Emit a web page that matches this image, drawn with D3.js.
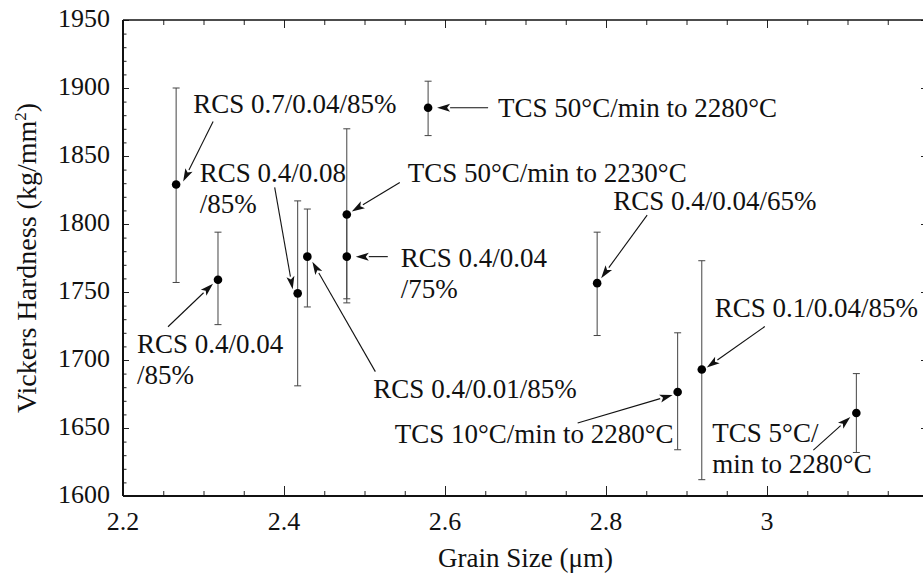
<html>
<head>
<meta charset="utf-8">
<script src="https://cdn.jsdelivr.net/npm/d3@7/dist/d3.min.js"></script>
<style>
@font-face { font-family: "LSerif"; src: local("Liberation Serif"), local("LiberationSerif"), local("LiberationSerif-Regular"), local("Tinos"), local("Tinos-Regular"); }
body { margin: 0; padding: 0; }
svg { display: block; }
</style>
</head>
<body>
<svg id="s" width="923" height="575"></svg>
<script>
// ---- data ----
const grainSize = [2.266, 2.318, 2.417, 2.429, 2.478, 2.478, 2.579, 2.789, 2.889, 2.919, 3.111];
const hardness  = [1829, 1759, 1749, 1776, 1807, 1776, 1885.5, 1756.5, 1676.5, 1693, 1661];
const errHigh   = [1900, 1794, 1817, 1811, 1870, 1808, 1905, 1794, 1720, 1773, 1690];
const errLow    = [1757, 1726, 1681, 1739, 1742, 1745, 1865, 1718, 1634, 1612, 1632];
const pointLabels = [
  ["RCS 0.7/0.04/85%"],
  ["RCS 0.4/0.04", "/85%"],
  ["RCS 0.4/0.08", "/85%"],
  ["RCS 0.4/0.01/85%"],
  ["TCS 50°C/min to 2230°C"],
  ["RCS 0.4/0.04", "/75%"],
  ["TCS 50°C/min to 2280°C"],
  ["RCS 0.4/0.04/65%"],
  ["TCS 10°C/min to 2280°C"],
  ["RCS 0.1/0.04/85%"],
  ["TCS 5°C/", "min to 2280°C"]
];
const xTicks = [2.2, 2.4, 2.6, 2.8, 3.0];
const xTickLabels = ["2.2", "2.4", "2.6", "2.8", "3"];
const yTicks = [1600, 1650, 1700, 1750, 1800, 1850, 1900, 1950];
const xTitle = "Grain Size (\u03bcm)";
const yTitle = "Vickers Hardness (kg/mm";

// ---- layout (pixel offsets of labels / arrows relative to each point) ----
const annot = [
  {tx: 17, ty: -72, a0: [37, -63], a1: [7, -3]},
  {tx: -81, ty: 73, a0: [-50, 47], a1: [-5, 4]},
  {tx: -98, ty: -111, a0: [-23, -106], a1: [-5, -4]},
  {tx: 66, ty: 141, a0: [68, 115], a1: [5, 5]},
  {tx: 61, ty: -32, a0: [53, -32], a1: [5, -3]},
  {tx: 54, ty: 10, a0: [41, 0], a1: [9, 0]},
  {tx: 70, ty: 9, a0: [60, 0], a1: [9, 0]},
  {tx: 16, ty: -73, a0: [50, -68], a1: [4, -5]},
  {tx: -283, ty: 51, a0: [-100, 31], a1: [-5, 3]},
  {tx: 13, ty: -53, a0: [63, -43], a1: [5, -2]},
  {tx: -144, ty: 29, a0: [-43, 37], a1: [-6, 4]}
];

const L = 123, R = 928, T = 20, B = 496;
const svg = d3.select("#s");
svg.append("rect").attr("width", 923).attr("height", 575).attr("fill", "#fff");

const x = d3.scaleLinear().domain([2.2, 3.2]).range([L, R]);
const y = d3.scaleLinear().domain([1600, 1950]).range([B, T]);

// axes (ticks inward)
const xMinor = d3.range(2.2, 3.2001, 0.05);
const yMinor = d3.range(1600, 1950.1, 10);

function ticksOnly(g) { g.select(".domain").remove(); g.selectAll("text").remove(); g.attr("font-family", null); }

const gBottom = svg.append("g").attr("transform", `translate(0,${B})`);
gBottom.append("g").call(d3.axisTop(x).tickValues(xMinor).tickSize(5)).call(ticksOnly);
gBottom.append("g").call(d3.axisTop(x).tickValues(xTicks).tickSize(10)).call(ticksOnly);
const gTop = svg.append("g").attr("transform", `translate(0,${T})`);
gTop.append("g").call(d3.axisBottom(x).tickValues(xMinor).tickSize(5)).call(ticksOnly);
gTop.append("g").call(d3.axisBottom(x).tickValues(xTicks).tickSize(8)).call(ticksOnly);
const gLeft = svg.append("g").attr("transform", `translate(${L},0)`);
gLeft.append("g").call(d3.axisRight(y).tickValues(yMinor).tickSize(3.5)).call(ticksOnly);
gLeft.append("g").call(d3.axisRight(y).tickValues(yTicks).tickSize(6)).call(ticksOnly);
const gRight = svg.append("g").attr("transform", `translate(${R},0)`);
gRight.append("g").call(d3.axisLeft(y).tickValues(yMinor).tickSize(4)).call(ticksOnly);
gRight.append("g").call(d3.axisLeft(y).tickValues(yTicks).tickSize(7)).call(ticksOnly);

svg.selectAll(".tick line").attr("stroke", "#222").attr("stroke-width", 1);

// frame
svg.append("line").attr("x1", L).attr("x2", R).attr("y1", B).attr("y2", B).attr("stroke", "#111").attr("stroke-width", 2.2);
svg.append("line").attr("x1", L).attr("x2", L).attr("y1", T).attr("y2", B).attr("stroke", "#111").attr("stroke-width", 2);
svg.append("line").attr("x1", L).attr("x2", R).attr("y1", T).attr("y2", T).attr("stroke", "#111").attr("stroke-width", 1.6);
svg.append("line").attr("x1", R).attr("x2", R).attr("y1", T).attr("y2", B).attr("stroke", "#999").attr("stroke-width", 1);

function txt(sel) {
  return sel.style("font-family", '"Liberation Serif", "LSerif", "Tinos", serif').attr("fill", "#111");
}

// tick labels
svg.append("g").selectAll("text").data(xTicks).join("text")
  .call(txt)
  .attr("x", d => x(d)).attr("y", B + 34)
  .attr("text-anchor", "middle").attr("font-size", 26)
  .text((d, i) => xTickLabels[i]);
svg.append("g").selectAll("text").data(yTicks).join("text")
  .call(txt)
  .attr("x", L - 13).attr("y", d => y(d) + 6.5)
  .attr("text-anchor", "end").attr("font-size", 26)
  .text(d => d);

// axis titles
svg.append("text").call(txt)
  .attr("x", (L + R) / 2).attr("y", 567)
  .attr("text-anchor", "middle").attr("font-size", 27).text(xTitle);
const yt = svg.append("text").call(txt)
  .attr("transform", `translate(36,${(T + B) / 2}) rotate(-90)`)
  .attr("text-anchor", "middle").attr("font-size", 28);
yt.append("tspan").text(yTitle);
yt.append("tspan").attr("dy", -10).attr("font-size", 17).text("2");
yt.append("tspan").attr("dy", 10).text(")");

// error bars
const eb = svg.append("g").attr("stroke", "#444").attr("stroke-width", 1);
grainSize.forEach((gx, i) => {
  const cx = x(gx);
  eb.append("line").attr("x1", cx).attr("x2", cx).attr("y1", y(errHigh[i])).attr("y2", y(errLow[i]));
  eb.append("line").attr("x1", cx - 3.5).attr("x2", cx + 3.5).attr("y1", y(errHigh[i])).attr("y2", y(errHigh[i]));
  eb.append("line").attr("x1", cx - 3.5).attr("x2", cx + 3.5).attr("y1", y(errLow[i])).attr("y2", y(errLow[i]));
});

// points
svg.append("g").selectAll("circle").data(grainSize).join("circle")
  .attr("cx", d => x(d)).attr("cy", (d, i) => y(hardness[i]))
  .attr("r", 4.3).attr("fill", "#000");

// annotations
const ag = svg.append("g");
annot.forEach((a, i) => {
  const px = x(grainSize[i]), py = y(hardness[i]);
  const x0 = px + a.a0[0], y0 = py + a.a0[1];
  const x1 = px + a.a1[0], y1 = py + a.a1[1];
  const ang = Math.atan2(y1 - y0, x1 - x0);
  const hl = 13, hw = 4;
  const bx = x1 - hl * Math.cos(ang), by = y1 - hl * Math.sin(ang);
  ag.append("line").attr("x1", x0).attr("y1", y0).attr("x2", bx).attr("y2", by)
    .attr("stroke", "#111").attr("stroke-width", 1.1);
  const p1 = [bx + hw * Math.sin(ang), by - hw * Math.cos(ang)];
  const p2 = [bx - hw * Math.sin(ang), by + hw * Math.cos(ang)];
  const notch = [x1 - (hl - 3) * Math.cos(ang), y1 - (hl - 3) * Math.sin(ang)];
  ag.append("path")
    .attr("d", `M${x1},${y1}L${p1[0]},${p1[1]}L${notch[0]},${notch[1]}L${p2[0]},${p2[1]}Z`)
    .attr("fill", "#111");
  pointLabels[i].forEach((ln, k) => {
    ag.append("text").call(txt)
      .attr("x", px + a.tx).attr("y", py + a.ty + k * 31)
      .attr("font-size", 27).text(ln);
  });
});
</script>
</body>
</html>
